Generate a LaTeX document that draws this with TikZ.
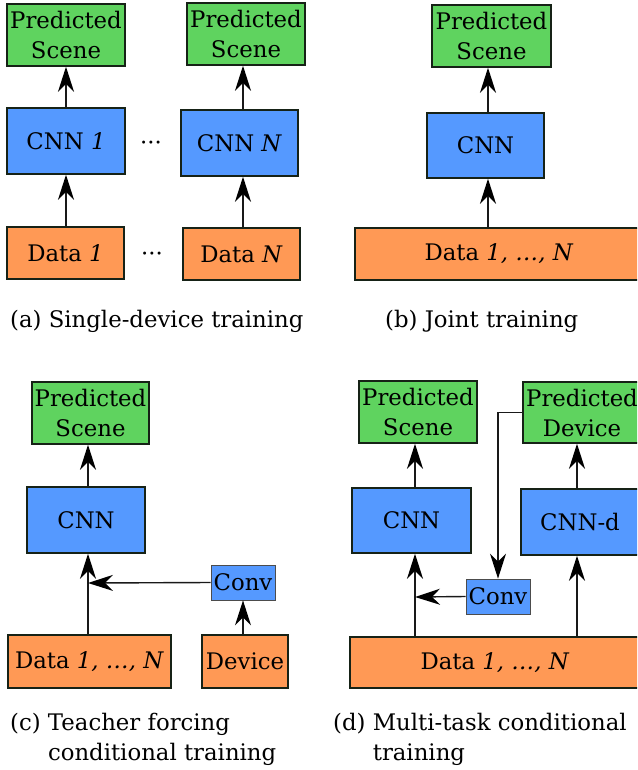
\documentclass[tikz,border=0pt]{standalone}
\usepackage{fontspec}
\setmainfont{DejaVu Serif}
\usetikzlibrary{arrows.meta}
\definecolor{outgreen}{HTML}{5FD35F}
\definecolor{netblue}{HTML}{5599FF}
\definecolor{inorange}{HTML}{FF9955}
\definecolor{edge}{RGB}{22,34,22}
\tikzset{every node/.style={inner sep=0pt, align=center, font=\fontsize{22.8}{30}\selectfont},
  box/.style={draw=edge, line width=1.5pt},
  outbox/.style={box, fill=outgreen, minimum width=118pt, minimum height=62pt},
  netbox/.style={box, fill=netblue, minimum height=66pt},
  databox/.style={box, fill=inorange, minimum height=52pt},
  convbox/.style={draw=black!70, line width=0.8pt, fill=netblue, minimum width=64pt, minimum height=35pt},
  flow/.style={draw=black!90, line width=1.4pt, -{Stealth[length=25pt, width=16pt, inset=8pt, black]}},
  caption/.style={anchor=west, align=left}}

\begin{document}
\begin{tikzpicture}[x=1pt, y=-1pt]
  \clip (0,0) rectangle (637,770);

  % (a)
  \node[outbox] (sa1) at ( 66, 35) {Predicted\\Scene};
  \node[outbox] (sa2) at (246, 34) {Predicted\\Scene};
  \node[netbox, minimum width=118pt] (na1) at ( 66,141) {CNN \textit{1}};
  \node[netbox, minimum width=117pt] (na2) at (239.5,143) {CNN \textit{N}};
  \node[databox, minimum width=117pt] (da1) at ( 65.5,253) {Data \textit{1}};
  \node[databox, minimum width=117pt] (da2) at (241.5,254) {Data \textit{N}};
  \node (dotsn) at (151,146) {···};
  \node (dotsd) at (152,257) {···};
  \node[caption] (capa) at (10,321) {(a) Single-device training};

  \draw[flow] (da1.north -| sa1) -- (na1.south -| sa1);
  \draw[flow] (na1.north -| sa1) -- (sa1.south);
  \draw[flow] (da2.north -| 243,0) -- (na2.south -| 243,0);
  \draw[flow] (na2.north -| 243,0) -- (sa2.south -| 243,0);

  % (b)
  \node[outbox, minimum width=119pt] (sb) at (491.5, 36) {Predicted\\Scene};
  \node[netbox, minimum width=117pt, minimum height=65pt] (nb) at (485.5,145.5) {CNN};
  \node[databox, minimum width=288pt] (db) at (499,254) {Data \textit{1, \dots, N}};
  \node[caption] (capb) at (385,321) {(b) Joint training};

  \draw[flow] (db.north -| 488,0) -- (nb.south -| 488,0);
  \draw[flow] (nb.north -| 488,0) -- (sb.south -| 488,0);

  % (c)
  \node[outbox, minimum width=117pt] (sc) at (90.5,413) {Predicted\\Scene};
  \node[netbox, minimum width=118pt] (nc) at ( 86,520) {CNN};
  \node[convbox] (cc) at (243,582.5) {Conv};
  \node[databox, minimum width=163pt, minimum height=53pt] (dc) at (89.5,661.5) {Data \textit{1, \dots, N}};
  \node[databox, minimum width=86pt, minimum height=53pt] (vc) at (245,661.5) {Device};
  \coordinate (jc) at (88,583);
  \node[caption] (capc) at (10,739) {(c) Teacher forcing\\\hphantom{(c) }conditional training};

  \draw[flow] (dc.north -| jc) -- (nc.south -| jc);
  \draw[flow] (nc.north -| jc) -- (sc.south -| jc);
  \draw[flow] (cc.west) -- (jc);
  \draw[flow] (vc.north -| cc) -- (cc.south);

  % (d)
  \node[outbox] (sd) at (418,412) {Predicted\\Scene};
  \node[outbox, minimum height=61pt] (pd) at (582,412.5) {Predicted\\Device};
  \node[netbox, minimum width=119pt, minimum height=65pt] (nd) at (411.5,520.5) {CNN};
  \node[netbox, minimum width=118pt] (nd2) at (580,522) {CNN-d};
  \node[convbox] (cd) at (498,596.5) {Conv};
  \node[databox, minimum width=290pt, minimum height=51pt] (dd) at (495,662.5) {Data \textit{1, \dots, N}};
  \coordinate (jd) at (415,597);
  \node[caption] (capd) at (333,739) {(d) Multi-task conditional\\\hphantom{(d) }training};

  \draw[flow] (dd.north -| jd) -- (nd.south -| jd);
  \draw[flow] (nd.north -| jd) -- (sd.south -| jd);
  \draw[flow] (cd.west) -- (jd);
  \draw[flow] (dd.north -| 577,0) -- (nd2.south -| 577,0);
  \draw[flow] (nd2.north -| 577,0) -- (pd.south -| 577,0);
  \draw[flow] (pd.west) -| (cd.north);
\end{tikzpicture}
\end{document}
